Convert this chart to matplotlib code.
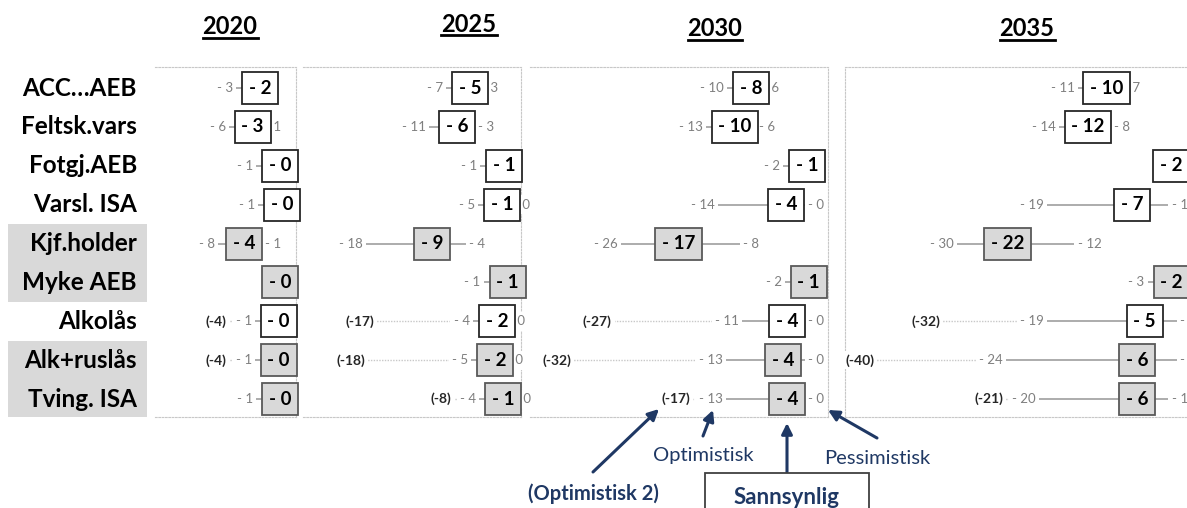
import matplotlib
matplotlib.use("Agg")
import matplotlib.pyplot as plt
from matplotlib.path import Path
from matplotlib.patches import Rectangle, FancyArrowPatch
from matplotlib.lines import Line2D

plt.rcParams['font.family'] = ['Lato', 'DejaVu Sans']

# ---------------- data ----------------
categories = ["ACC…AEB", "Feltsk.vars", "Fotgj.AEB", "Varsl. ISA", "Kjf.holder",
              "Myke AEB", "Alkolås", "Alk+ruslås", "Tving. ISA"]
shaded_rows = [False, False, False, False, True, True, False, True, True]
years = ["2020", "2025", "2030", "2035"]

likely_2020 = [-2.4, -3.2, -0.3, -0.1, -4.1, -0.3, -0.45, -0.45, -0.3]
optimistic_2020 = [-3, -6, -1, -1, -8, None, -1, -1, -1]
pessimistic_2020 = [None, -1, None, None, -1, None, None, None, None]
optimistic2_2020 = [None, None, None, None, None, None, -4, -4, None]

likely_2025 = [-4.8, -6.2, -1.0, -1.2, -9.0, -0.6, -1.8, -2.0, -1.1]
optimistic_2025 = [-7, -11, -1, -5, -18, -1, -4, -5, -4]
pessimistic_2025 = [-3, -3, None, 0, -4, None, 0, 0, 0]
optimistic2_2025 = [None, None, None, None, None, None, -17, -18, -8]

likely_2030 = [-8.0, -10.0, -1.1, -3.7, -17.0, -0.9, -3.6, -4.1, -3.6]
optimistic_2030 = [-10, -13, -2, -14, -26, -2, -11, -13, -13]
pessimistic_2030 = [-6, -6, None, 0, -8, None, 0, 0, 0]
optimistic2_2030 = [None, None, None, None, None, None, -27, -32, -17]

likely_2035 = [-9.9, -12.2, -2.1, -6.8, -22.0, -2.0, -5.3, -6.2, -6.2]
optimistic_2035 = [-11, -14, None, -19, -30, -3, -19, -24, -20]
pessimistic_2035 = [-7, -8, None, -1, -12, None, 0, 0, -1]
optimistic2_2035 = [None, None, None, None, None, None, -32, -40, -21]

likely = [likely_2020, likely_2025, likely_2030, likely_2035]
optimistic = [optimistic_2020, optimistic_2025, optimistic_2030, optimistic_2035]
pessimistic = [pessimistic_2020, pessimistic_2025, pessimistic_2030, pessimistic_2035]
optimistic2 = [optimistic2_2020, optimistic2_2025, optimistic2_2030, optimistic2_2035]

# ---------------- layout ----------------
W, H = 1187, 508
fig = plt.figure(figsize=(W / 100, H / 100), dpi=100)
fig.patch.set_facecolor('white')

def fx(x):
    return x / W

def fy(y):
    return 1 - y / H

TOP, BOT = 67, 417
# (left px, right px, zero px, px per unit)
panels = [(155, 296, 283, 9.5), (303, 521, 513, 9.0),
          (530, 828, 816, 8.1), (845, 1200, 1188, 8.2)]
title_pos = [(230, 27), (469, 24), (715, 29), (1027, 29)]
YLIM = (8.46, -0.54)

navy = "#1f3864"
grey_txt = "#7f7f7f"
line_col = "#a6a6a6"
border_col = "#c8c8c8"
shade = "#d9d9d9"


def wide_box(x0, y0, width, height, mutation_size):
    px = 0.36 * mutation_size
    py = 0.40 * mutation_size
    x0 -= px
    y0 -= py
    x1 = x0 + width + 2 * px
    y1 = y0 + height + 2 * py
    return Path([(x0, y0), (x1, y0), (x1, y1), (x0, y1), (x0, y0)],
                [Path.MOVETO, Path.LINETO, Path.LINETO, Path.LINETO, Path.CLOSEPOLY])


def fmt(v):
    return "- %d" % abs(round(v))


# category label column
ax_lab = fig.add_axes([0, fy(BOT), fx(150), (BOT - TOP) / H])
ax_lab.set_xlim(0, 150)
ax_lab.set_ylim(*YLIM)
ax_lab.axis('off')
for i, (cat, sh) in enumerate(zip(categories, shaded_rows)):
    if sh:
        ax_lab.add_patch(Rectangle((8, i - 0.5), 139, 1.0, facecolor=shade,
                                   edgecolor='none', zorder=0))
    ax_lab.text(137, i, cat, ha='right', va='center', fontsize=17.5,
                fontweight='bold', color='black', zorder=2)

axes = []
store = []
for p, (x0, x1, zero, slope) in enumerate(panels):
    ax = fig.add_axes([fx(x0), fy(BOT), (x1 - x0) / W, (BOT - TOP) / H])
    ax.set_xlim((x0 - zero) / slope, (x1 - zero) / slope)
    ax.set_ylim(*YLIM)
    ax.set_xticks([])
    ax.set_yticks([])
    ax.patch.set_alpha(0)
    for s in ['top', 'bottom', 'left', 'right']:
        ax.spines[s].set_color(border_col)
        ax.spines[s].set_linestyle((0, (1.5, 1.5)))
        ax.spines[s].set_linewidth(0.8)
    if p < 3:
        ax.spines['left'].set_visible(False)
    else:
        ax.spines['right'].set_visible(False)
    axes.append(ax)
    rows = []
    for i in range(len(categories)):
        fc = shade if shaded_rows[i] else 'white'
        ec = '#595959' if shaded_rows[i] else '#262626'
        b = ax.text(likely[p][i], i, fmt(likely[p][i]), ha='center', va='center',
                    fontsize=13.5, fontweight='bold', color='black', zorder=6,
                    bbox=dict(boxstyle=wide_box, fc=fc, ec=ec, lw=1.3))
        o = None
        if optimistic[p][i] is not None:
            o = ax.text(optimistic[p][i], i, fmt(optimistic[p][i]), ha='center',
                        va='center', fontsize=9.5, color=grey_txt, zorder=4,
                        bbox=dict(boxstyle='square,pad=0.25', fc='white', ec='none'))
        q = None
        if pessimistic[p][i] is not None:
            q = ax.text(pessimistic[p][i], i, fmt(pessimistic[p][i]), ha='center',
                        va='center', fontsize=9.5, color=grey_txt, zorder=4,
                        bbox=dict(boxstyle='square,pad=0.25', fc='white', ec='none'))
        o2 = None
        if optimistic2[p][i] is not None:
            o2 = ax.text(optimistic2[p][i], i, "(%d)" % optimistic2[p][i], ha='center',
                         va='center', fontsize=10, fontweight='bold', color='#262626',
                         zorder=4,
                         bbox=dict(boxstyle='square,pad=0.2', fc='white', ec='none'))
        rows.append((b, o, q, o2))
    store.append(rows)

# year titles
titles = []
for yr, (tx, ty) in zip(years, title_pos):
    titles.append(fig.text(fx(tx), fy(ty), yr, ha='center', va='center',
                           fontsize=17, fontweight='bold', color='black'))

fig.canvas.draw()
r = fig.canvas.get_renderer()

for p, ax in enumerate(axes):
    inv = ax.transData.inverted()
    for i, (b, o, q, o2) in enumerate(store[p]):
        bb = b.get_bbox_patch().get_window_extent(r)
        ypx = ax.transData.transform((0, i))[1]
        cx_box = ax.transData.transform((likely[p][i], i))[0]
        xo = xq = None
        if o is not None:
            hw = o.get_window_extent(r).width / 2
            pos = ax.transData.transform((optimistic[p][i], i))[0]
            cpx = min(pos, bb.x0 - 9 - hw)
            o.set_x(inv.transform((cpx, ypx))[0])
            xo = cpx
        if q is not None:
            pos = ax.transData.transform((pessimistic[p][i], i))[0]
            cpx = max(pos, bb.x1 + 2)
            q.set_x(inv.transform((cpx, ypx))[0])
            xq = cpx
        if o2 is not None and xo is not None:
            hw_o = o.get_window_extent(r).width / 2
            hw2 = o2.get_window_extent(r).width / 2
            pos = ax.transData.transform((optimistic2[p][i], i))[0]
            cpx = min(pos, xo - hw_o - 9 - hw2)
            o2.set_x(inv.transform((cpx, ypx))[0])
            xa = inv.transform((cpx, ypx))[0]
            xb = inv.transform((xo, ypx))[0]
            ax.add_line(Line2D([xa, xb], [i, i], color=border_col, lw=1.0,
                               linestyle=(0, (1, 1)), zorder=2))
        left = xo if xo is not None else cx_box
        right = xq if xq is not None else cx_box
        if left != right:
            xa = inv.transform((left, ypx))[0]
            xb = inv.transform((right, ypx))[0]
            ax.add_line(Line2D([xa, xb], [i, i], color=line_col, lw=1.3, zorder=2))

# underline the year titles
for t in titles:
    bb = t.get_window_extent(r)
    yline = bb.y0 + 1
    fig.add_artist(Line2D([bb.x0 / W, bb.x1 / W], [yline / H, yline / H],
                          color='black', lw=2.0, transform=fig.transFigure))

# annotations for the legend explanation
arrows = [((593, 472), (659, 409)), ((703, 436), (713, 410)),
          ((787, 472), (787, 423)), ((877, 438), (828, 410))]
for (ax_, ay_), (bx_, by_) in arrows:
    fig.add_artist(FancyArrowPatch((fx(ax_), fy(ay_)), (fx(bx_), fy(by_)),
                                   transform=fig.transFigure, arrowstyle='-|>',
                                   mutation_scale=16, lw=2.2, color=navy,
                                   shrinkA=0, shrinkB=0))

fig.text(fx(703), fy(456), "Optimistisk", ha='center', va='center', fontsize=14.5,
         color=navy)
fig.text(fx(877), fy(459), "Pessimistisk", ha='center', va='center', fontsize=14.5,
         color=navy)
fig.text(fx(593), fy(494), "(Optimistisk 2)", ha='center', va='center', fontsize=14.5,
         fontweight='bold', color=navy)
fig.add_artist(Rectangle((fx(705), fy(520)), (869 - 705) / W, (520 - 473) / H,
                         transform=fig.transFigure, fc='white', ec='#404040', lw=1.3))
fig.text(fx(787), fy(497), "Sannsynlig", ha='center', va='center', fontsize=16,
         fontweight='bold', color=navy)

fig.savefig("out.png", dpi=100)
